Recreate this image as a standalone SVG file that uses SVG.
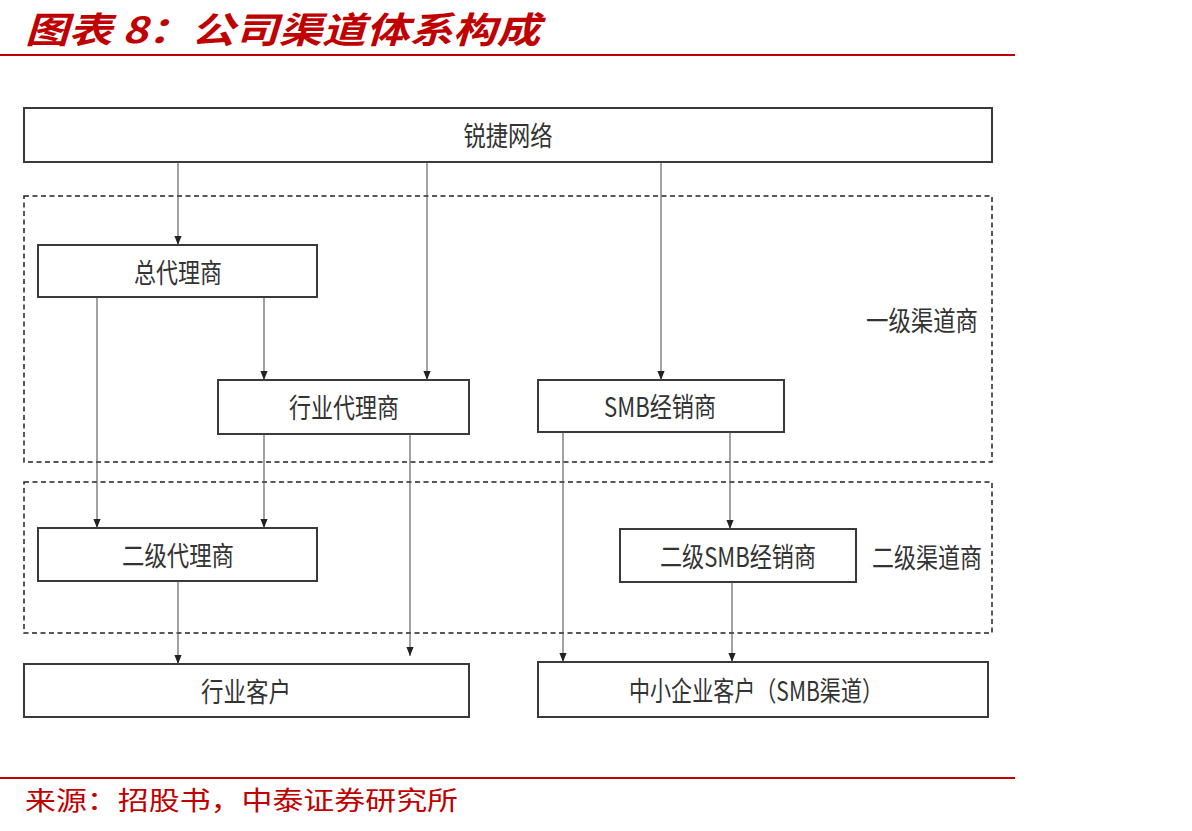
<svg xmlns="http://www.w3.org/2000/svg" width="1192" height="831" viewBox="0 0 1192 831">
<defs>
<marker id="arr" viewBox="0 0 10 10" refX="10" refY="5" markerWidth="9" markerHeight="9" markerUnits="userSpaceOnUse" orient="auto">
<path d="M0,1 L10,5 L0,9 z" fill="#222"/>
</marker>
<style>
.node{fill:#fff;stroke:#3a3a3a;stroke-width:2}
.grp{fill:none;stroke:#222;stroke-width:1.5;stroke-dasharray:5,3.5}
.lbl{font-family:"Noto Sans CJK SC","Liberation Sans",sans-serif;font-size:27px;fill:#333;text-anchor:middle}
.conn line{stroke:#555;stroke-width:1.1;marker-end:url(#arr)}
.red{font-family:"Noto Sans CJK SC",serif;fill:#c00000}
</style>
</defs>
<rect width="1192" height="831" fill="#fff"/>
<text class="red" x="25" y="43" font-size="36" font-weight="bold" font-style="italic" textLength="515" lengthAdjust="spacingAndGlyphs">图表 8：公司渠道体系构成</text>
<line x1="0" y1="55" x2="1015" y2="55" stroke="#c00000" stroke-width="2"/>
<g id="group1"><rect class="grp" x="24" y="196" width="968" height="266"/><text class="lbl" x="922" y="331" textLength="112" lengthAdjust="spacingAndGlyphs">一级渠道商</text></g>
<g id="group2"><rect class="grp" x="24" y="482" width="968" height="151"/><text class="lbl" x="927" y="568" textLength="110" lengthAdjust="spacingAndGlyphs">二级渠道商</text></g>
<g id="ruijie"><rect class="node" x="24" y="108" width="968" height="54"/><text class="lbl" x="508" y="146" textLength="89" lengthAdjust="spacingAndGlyphs">锐捷网络</text></g>
<g id="zongdaili"><rect class="node" x="38" y="245" width="279" height="52"/><text class="lbl" x="178" y="283" textLength="88" lengthAdjust="spacingAndGlyphs">总代理商</text></g>
<g id="hangyedaili"><rect class="node" x="218" y="380" width="251" height="54"/><text class="lbl" x="344" y="418" textLength="110" lengthAdjust="spacingAndGlyphs">行业代理商</text></g>
<g id="smb"><rect class="node" x="538" y="380" width="246" height="52"/><text class="lbl" x="660" y="417" textLength="112" lengthAdjust="spacingAndGlyphs">SMB经销商</text></g>
<g id="erjidaili"><rect class="node" x="38" y="528" width="279" height="53"/><text class="lbl" x="178" y="566" textLength="112" lengthAdjust="spacingAndGlyphs">二级代理商</text></g>
<g id="erjismb"><rect class="node" x="620" y="529" width="236" height="53"/><text class="lbl" x="738" y="567" textLength="156" lengthAdjust="spacingAndGlyphs">二级SMB经销商</text></g>
<g id="hangyekehu"><rect class="node" x="24" y="664" width="445" height="53"/><text class="lbl" x="246" y="702" textLength="90" lengthAdjust="spacingAndGlyphs">行业客户</text></g>
<g id="smbkehu"><rect class="node" x="538" y="662" width="450" height="55"/><text class="lbl" x="756" y="701" textLength="254" lengthAdjust="spacingAndGlyphs">中小企业客户（SMB渠道）</text></g>
<g id="connectors" class="conn">
<line x1="178" y1="162" x2="178" y2="245"/>
<line x1="427" y1="162" x2="427" y2="380"/>
<line x1="661" y1="162" x2="661" y2="380"/>
<line x1="97" y1="297" x2="97" y2="528"/>
<line x1="264" y1="297" x2="264" y2="380"/>
<line x1="264" y1="434" x2="264" y2="528"/>
<line x1="410" y1="434" x2="410" y2="656"/>
<line x1="178" y1="581" x2="178" y2="664"/>
<line x1="563" y1="432" x2="563" y2="662"/>
<line x1="730" y1="432" x2="730" y2="529"/>
<line x1="732" y1="582" x2="732" y2="662"/>
</g>
<line x1="0" y1="778" x2="1015" y2="778" stroke="#c00000" stroke-width="2"/>
<text class="red" x="25" y="810" font-size="26" textLength="433" lengthAdjust="spacingAndGlyphs">来源：招股书，中泰证券研究所</text>
</svg>
